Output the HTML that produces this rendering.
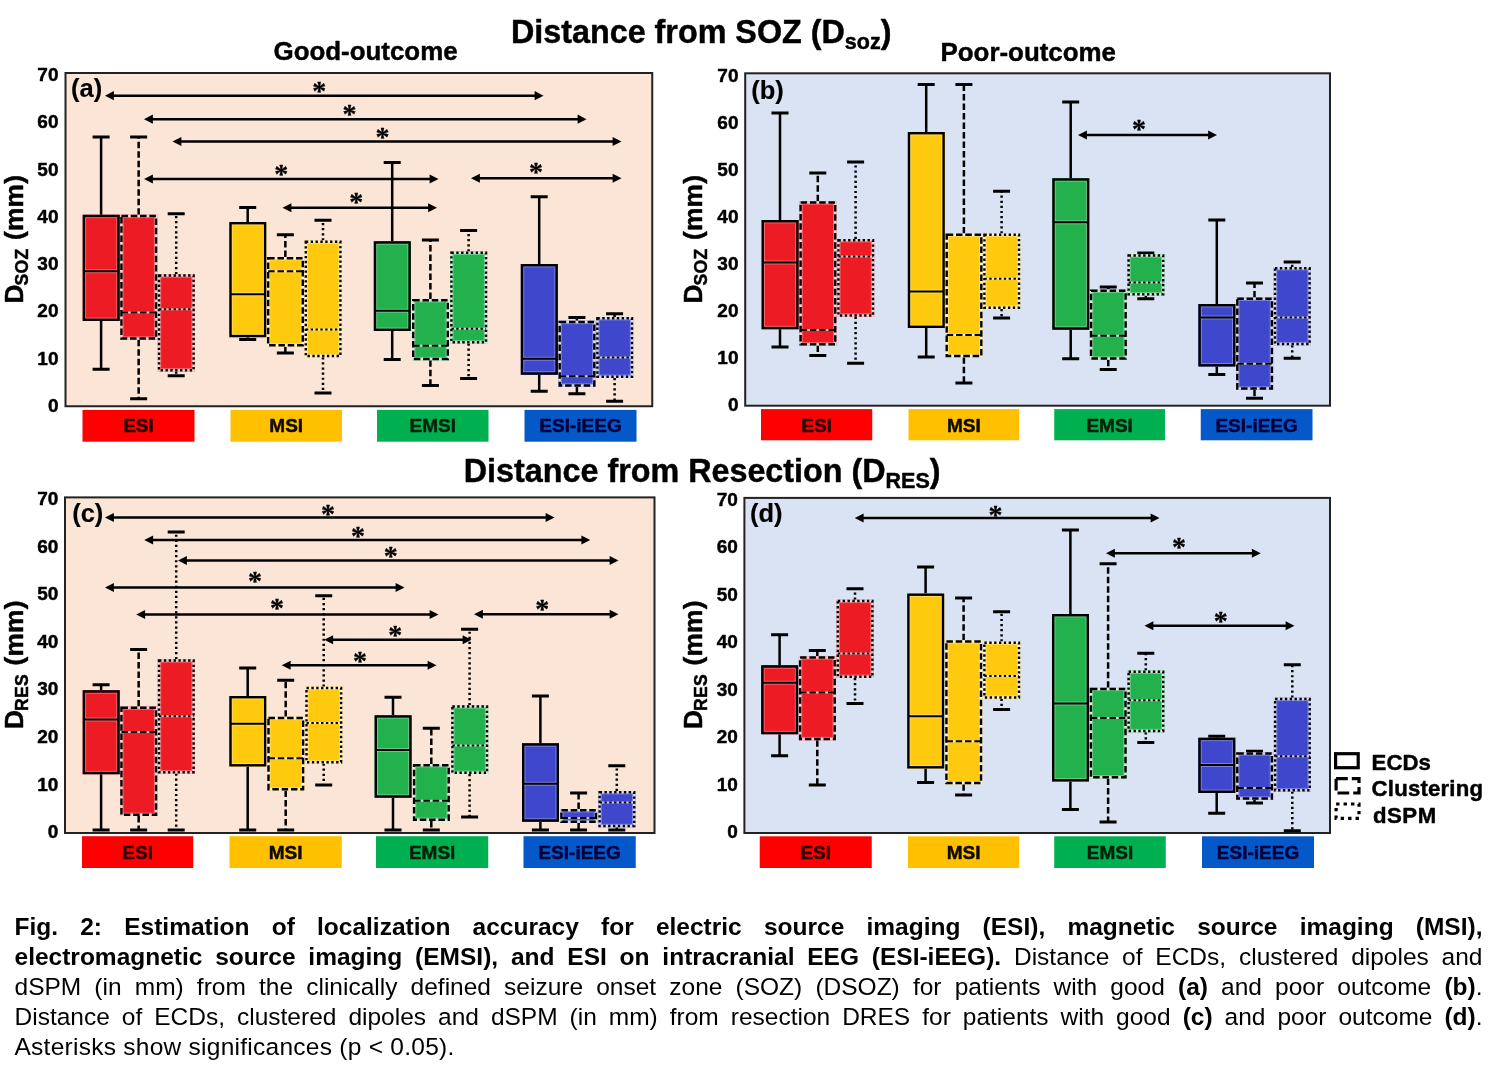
<!DOCTYPE html>
<html lang="en"><head><meta charset="utf-8"><title>Fig. 2</title>
<style>
html,body{margin:0;padding:0;background:#fff;}
body{width:1497px;height:1077px;position:relative;overflow:hidden;font-family:"Liberation Sans", sans-serif;}
svg{position:absolute;left:0;top:0;}
svg text{font-family:"Liberation Sans", sans-serif;font-weight:bold;fill:#000;stroke:#000;stroke-width:0.45px;stroke-linejoin:round;}
.tk{font-size:19px;}
.yt{font-size:26.3px;letter-spacing:0.3px;}
.sub{font-size:17.6px;}
.lb{font-size:19px;fill:#0a0a0a;}
.tag{font-size:25.5px;stroke-width:0.15px;}
.t1{font-size:32.3px;}
.t1s{font-size:21.5px;}
.t2{font-size:25.9px;}
.lg{font-size:22.2px;}
svg text.ast{font-family:"Liberation Serif","DejaVu Serif",serif;font-weight:bold;font-size:28px;stroke-width:0.3px;}
#cap{position:absolute;left:14.5px;top:911.8px;width:1468px;font-size:24.5px;line-height:30px;color:#000;}
#cap div{text-align:justify;text-align-last:justify;white-space:nowrap;height:30px;}
#cap div.last{text-align:left;text-align-last:left;letter-spacing:0.26px;}
</style></head>
<body>
<svg width="1497" height="1077" viewBox="0 0 1497 1077">
<g>
<rect x="65.5" y="73" width="586.75" height="333.25" fill="#FBE5D6" stroke="#222" stroke-width="2"/>
<text x="58.5" y="81.05" text-anchor="end" class="tk">70</text>
<text x="58.5" y="128.3" text-anchor="end" class="tk">60</text>
<text x="58.5" y="175.55" text-anchor="end" class="tk">50</text>
<text x="58.5" y="222.8" text-anchor="end" class="tk">40</text>
<text x="58.5" y="270.05" text-anchor="end" class="tk">30</text>
<text x="58.5" y="317.3" text-anchor="end" class="tk">20</text>
<text x="58.5" y="364.55" text-anchor="end" class="tk">10</text>
<text x="58.5" y="411.8" text-anchor="end" class="tk">0</text>
<text transform="translate(22.9 303.4) rotate(-90)" class="yt">D<tspan class="sub" dx="-1.5" dy="5.1">SOZ</tspan><tspan dx="0.8" dy="-5.1"> (mm)</tspan></text>
<path d="M101.1 214.75V137M101.1 321V369.25" stroke="#000" stroke-width="2.5" fill="none"/>
<path d="M92.6 137H109.6M92.6 369.25H109.6" stroke="#000" stroke-width="2.8" fill="none"/>
<path d="M138.65 214.75V137M138.65 339.75V398.75" stroke="#000" stroke-width="2.5" fill="none" stroke-dasharray="6.5 3"/>
<path d="M130.15 137H147.15M130.15 398.75H147.15" stroke="#000" stroke-width="2.8" fill="none"/>
<path d="M176.2 274.25V213.75M176.2 371.5V375.75" stroke="#000" stroke-width="2.5" fill="none" stroke-dasharray="2.2 2.9"/>
<path d="M167.7 213.75H184.7M167.7 375.75H184.7" stroke="#000" stroke-width="2.8" fill="none"/>
<path d="M247.7 222V207.5M247.7 337.25V339.5" stroke="#000" stroke-width="2.5" fill="none"/>
<path d="M239.2 207.5H256.2M239.2 339.5H256.2" stroke="#000" stroke-width="2.8" fill="none"/>
<path d="M285.35 257V234.75M285.35 346.5V353" stroke="#000" stroke-width="2.5" fill="none" stroke-dasharray="6.5 3"/>
<path d="M276.85 234.75H293.85M276.85 353H293.85" stroke="#000" stroke-width="2.8" fill="none"/>
<path d="M323 240.5V220.25M323 357.25V393" stroke="#000" stroke-width="2.5" fill="none" stroke-dasharray="2.2 2.9"/>
<path d="M314.5 220.25H331.5M314.5 393H331.5" stroke="#000" stroke-width="2.8" fill="none"/>
<path d="M392.2 241.25V162.5M392.2 331V359.5" stroke="#000" stroke-width="2.5" fill="none"/>
<path d="M383.7 162.5H400.7M383.7 359.5H400.7" stroke="#000" stroke-width="2.8" fill="none"/>
<path d="M430.4 299V240M430.4 360.25V385.5" stroke="#000" stroke-width="2.5" fill="none" stroke-dasharray="6.5 3"/>
<path d="M421.9 240H438.9M421.9 385.5H438.9" stroke="#000" stroke-width="2.8" fill="none"/>
<path d="M468.6 251.5V230.5M468.6 343.5V378.5" stroke="#000" stroke-width="2.5" fill="none" stroke-dasharray="2.2 2.9"/>
<path d="M460.1 230.5H477.1M460.1 378.5H477.1" stroke="#000" stroke-width="2.8" fill="none"/>
<path d="M539.2 264V196.75M539.2 374.75V391.25" stroke="#000" stroke-width="2.5" fill="none"/>
<path d="M530.7 196.75H547.7M530.7 391.25H547.7" stroke="#000" stroke-width="2.8" fill="none"/>
<path d="M576.9 320.75V317.5M576.9 386.75V393.75" stroke="#000" stroke-width="2.5" fill="none" stroke-dasharray="6.5 3"/>
<path d="M568.4 317.5H585.4M568.4 393.75H585.4" stroke="#000" stroke-width="2.8" fill="none"/>
<path d="M614.6 317V313.75M614.6 378V401.25" stroke="#000" stroke-width="2.5" fill="none" stroke-dasharray="2.2 2.9"/>
<path d="M606.1 313.75H623.1M606.1 401.25H623.1" stroke="#000" stroke-width="2.8" fill="none"/>
<rect x="82.7" y="214.75" width="37" height="106.25" fill="#ED1C24"/>
<rect x="85.5" y="217.55" width="31.4" height="100.65" fill="none" stroke="#fff" stroke-opacity="0.33" stroke-width="1.2"/>
<line x1="85.1" y1="271.25" x2="117.3" y2="271.25" stroke="#fff" stroke-opacity="0.3" stroke-width="4"/>
<rect x="83.9" y="215.95" width="34.6" height="103.85" fill="none" stroke="#000" stroke-width="2.4"/>
<line x1="83.9" y1="271.25" x2="118.5" y2="271.25" stroke="#000" stroke-width="2.2"/>
<rect x="120.25" y="214.75" width="37" height="125" fill="#ED1C24"/>
<rect x="123.05" y="217.55" width="31.4" height="119.4" fill="none" stroke="#fff" stroke-opacity="0.33" stroke-width="1.2"/>
<rect x="121.45" y="215.95" width="34.6" height="122.6" fill="none" stroke="#fff" stroke-opacity="0.8" stroke-width="2.4"/>
<line x1="121.45" y1="312.5" x2="156.05" y2="312.5" stroke="#fff" stroke-opacity="0.7" stroke-width="2"/>
<rect x="121.45" y="215.95" width="34.6" height="122.6" fill="none" stroke="#000" stroke-width="2.4" stroke-dasharray="6.5 2.8"/>
<line x1="121.45" y1="312.5" x2="156.05" y2="312.5" stroke="#000" stroke-width="2.2" stroke-dasharray="6.5 2.8"/>
<rect x="157.8" y="274.25" width="37" height="97.25" fill="#ED1C24"/>
<rect x="160.6" y="277.05" width="31.4" height="91.65" fill="none" stroke="#fff" stroke-opacity="0.33" stroke-width="1.2"/>
<rect x="159" y="275.45" width="34.6" height="94.85" fill="none" stroke="#fff" stroke-opacity="0.8" stroke-width="2.4"/>
<line x1="159" y1="309.25" x2="193.6" y2="309.25" stroke="#fff" stroke-opacity="0.7" stroke-width="2"/>
<rect x="159" y="275.45" width="34.6" height="94.85" fill="none" stroke="#000" stroke-width="2.4" stroke-dasharray="2.4 2.45"/>
<line x1="159" y1="309.25" x2="193.6" y2="309.25" stroke="#000" stroke-width="2.2" stroke-dasharray="2.4 2.45"/>
<rect x="229.3" y="222" width="37" height="115.25" fill="#FFC90E"/>
<rect x="232.1" y="224.8" width="31.4" height="109.65" fill="none" stroke="#fff" stroke-opacity="0.33" stroke-width="1.2"/>
<line x1="231.7" y1="294.25" x2="263.9" y2="294.25" stroke="#fff" stroke-opacity="0.3" stroke-width="4"/>
<rect x="230.5" y="223.2" width="34.6" height="112.85" fill="none" stroke="#000" stroke-width="2.4"/>
<line x1="230.5" y1="294.25" x2="265.1" y2="294.25" stroke="#000" stroke-width="2.2"/>
<rect x="266.95" y="257" width="37" height="89.5" fill="#FFC90E"/>
<rect x="269.75" y="259.8" width="31.4" height="83.9" fill="none" stroke="#fff" stroke-opacity="0.33" stroke-width="1.2"/>
<rect x="268.15" y="258.2" width="34.6" height="87.1" fill="none" stroke="#fff" stroke-opacity="0.8" stroke-width="2.4"/>
<line x1="268.15" y1="271.25" x2="302.75" y2="271.25" stroke="#fff" stroke-opacity="0.7" stroke-width="2"/>
<rect x="268.15" y="258.2" width="34.6" height="87.1" fill="none" stroke="#000" stroke-width="2.4" stroke-dasharray="6.5 2.8"/>
<line x1="268.15" y1="271.25" x2="302.75" y2="271.25" stroke="#000" stroke-width="2.2" stroke-dasharray="6.5 2.8"/>
<rect x="304.6" y="240.5" width="37" height="116.75" fill="#FFC90E"/>
<rect x="307.4" y="243.3" width="31.4" height="111.15" fill="none" stroke="#fff" stroke-opacity="0.33" stroke-width="1.2"/>
<rect x="305.8" y="241.7" width="34.6" height="114.35" fill="none" stroke="#fff" stroke-opacity="0.8" stroke-width="2.4"/>
<line x1="305.8" y1="329.5" x2="340.4" y2="329.5" stroke="#fff" stroke-opacity="0.7" stroke-width="2"/>
<rect x="305.8" y="241.7" width="34.6" height="114.35" fill="none" stroke="#000" stroke-width="2.4" stroke-dasharray="2.4 2.45"/>
<line x1="305.8" y1="329.5" x2="340.4" y2="329.5" stroke="#000" stroke-width="2.2" stroke-dasharray="2.4 2.45"/>
<rect x="373.8" y="241.25" width="37" height="89.75" fill="#22B14C"/>
<rect x="376.6" y="244.05" width="31.4" height="84.15" fill="none" stroke="#fff" stroke-opacity="0.33" stroke-width="1.2"/>
<line x1="376.2" y1="310.75" x2="408.4" y2="310.75" stroke="#fff" stroke-opacity="0.3" stroke-width="4"/>
<rect x="375" y="242.45" width="34.6" height="87.35" fill="none" stroke="#000" stroke-width="2.4"/>
<line x1="375" y1="310.75" x2="409.6" y2="310.75" stroke="#000" stroke-width="2.2"/>
<rect x="412" y="299" width="37" height="61.25" fill="#22B14C"/>
<rect x="414.8" y="301.8" width="31.4" height="55.65" fill="none" stroke="#fff" stroke-opacity="0.33" stroke-width="1.2"/>
<rect x="413.2" y="300.2" width="34.6" height="58.85" fill="none" stroke="#fff" stroke-opacity="0.8" stroke-width="2.4"/>
<line x1="413.2" y1="345.75" x2="447.8" y2="345.75" stroke="#fff" stroke-opacity="0.7" stroke-width="2"/>
<rect x="413.2" y="300.2" width="34.6" height="58.85" fill="none" stroke="#000" stroke-width="2.4" stroke-dasharray="6.5 2.8"/>
<line x1="413.2" y1="345.75" x2="447.8" y2="345.75" stroke="#000" stroke-width="2.2" stroke-dasharray="6.5 2.8"/>
<rect x="450.2" y="251.5" width="37" height="92" fill="#22B14C"/>
<rect x="453" y="254.3" width="31.4" height="86.4" fill="none" stroke="#fff" stroke-opacity="0.33" stroke-width="1.2"/>
<rect x="451.4" y="252.7" width="34.6" height="89.6" fill="none" stroke="#fff" stroke-opacity="0.8" stroke-width="2.4"/>
<line x1="451.4" y1="328.75" x2="486" y2="328.75" stroke="#fff" stroke-opacity="0.7" stroke-width="2"/>
<rect x="451.4" y="252.7" width="34.6" height="89.6" fill="none" stroke="#000" stroke-width="2.4" stroke-dasharray="2.4 2.45"/>
<line x1="451.4" y1="328.75" x2="486" y2="328.75" stroke="#000" stroke-width="2.2" stroke-dasharray="2.4 2.45"/>
<rect x="520.8" y="264" width="37" height="110.75" fill="#3F48CC"/>
<rect x="523.6" y="266.8" width="31.4" height="105.15" fill="none" stroke="#fff" stroke-opacity="0.33" stroke-width="1.2"/>
<line x1="523.2" y1="358.75" x2="555.4" y2="358.75" stroke="#fff" stroke-opacity="0.3" stroke-width="4"/>
<rect x="522" y="265.2" width="34.6" height="108.35" fill="none" stroke="#000" stroke-width="2.4"/>
<line x1="522" y1="358.75" x2="556.6" y2="358.75" stroke="#000" stroke-width="2.2"/>
<rect x="558.5" y="320.75" width="37" height="66" fill="#3F48CC"/>
<rect x="561.3" y="323.55" width="31.4" height="60.4" fill="none" stroke="#fff" stroke-opacity="0.33" stroke-width="1.2"/>
<rect x="559.7" y="321.95" width="34.6" height="63.6" fill="none" stroke="#fff" stroke-opacity="0.8" stroke-width="2.4"/>
<line x1="559.7" y1="376.25" x2="594.3" y2="376.25" stroke="#fff" stroke-opacity="0.7" stroke-width="2"/>
<rect x="559.7" y="321.95" width="34.6" height="63.6" fill="none" stroke="#000" stroke-width="2.4" stroke-dasharray="6.5 2.8"/>
<line x1="559.7" y1="376.25" x2="594.3" y2="376.25" stroke="#000" stroke-width="2.2" stroke-dasharray="6.5 2.8"/>
<rect x="596.2" y="317" width="37" height="61" fill="#3F48CC"/>
<rect x="599" y="319.8" width="31.4" height="55.4" fill="none" stroke="#fff" stroke-opacity="0.33" stroke-width="1.2"/>
<rect x="597.4" y="318.2" width="34.6" height="58.6" fill="none" stroke="#fff" stroke-opacity="0.8" stroke-width="2.4"/>
<line x1="597.4" y1="357.5" x2="632" y2="357.5" stroke="#fff" stroke-opacity="0.7" stroke-width="2"/>
<rect x="597.4" y="318.2" width="34.6" height="58.6" fill="none" stroke="#000" stroke-width="2.4" stroke-dasharray="2.4 2.45"/>
<line x1="597.4" y1="357.5" x2="632" y2="357.5" stroke="#000" stroke-width="2.2" stroke-dasharray="2.4 2.45"/>
<line x1="112.9" y1="95.7" x2="535.6" y2="95.7" stroke="#000" stroke-width="2.35"/><polygon points="105,95.7 113.9,91.1 113.9,100.3"/><polygon points="543.5,95.7 534.6,91.1 534.6,100.3"/>
<text x="319.3" y="100.2" text-anchor="middle" class="ast">*</text>
<line x1="151.9" y1="119.2" x2="578.6" y2="119.2" stroke="#000" stroke-width="2.35"/><polygon points="144,119.2 152.9,114.6 152.9,123.8"/><polygon points="586.5,119.2 577.6,114.6 577.6,123.8"/>
<text x="349.4" y="123" text-anchor="middle" class="ast">*</text>
<line x1="180.4" y1="141.5" x2="613.6" y2="141.5" stroke="#000" stroke-width="2.35"/><polygon points="172.5,141.5 181.4,136.9 181.4,146.1"/><polygon points="621.5,141.5 612.6,136.9 612.6,146.1"/>
<text x="382.5" y="145.7" text-anchor="middle" class="ast">*</text>
<line x1="151.9" y1="179" x2="430.6" y2="179" stroke="#000" stroke-width="2.35"/><polygon points="144,179 152.9,174.4 152.9,183.6"/><polygon points="438.5,179 429.6,174.4 429.6,183.6"/>
<text x="281.25" y="182.7" text-anchor="middle" class="ast">*</text>
<line x1="290.4" y1="207.75" x2="429.1" y2="207.75" stroke="#000" stroke-width="2.35"/><polygon points="282.5,207.75 291.4,203.15 291.4,212.35"/><polygon points="437,207.75 428.1,203.15 428.1,212.35"/>
<text x="356.25" y="211.45" text-anchor="middle" class="ast">*</text>
<line x1="478.9" y1="178.25" x2="613.6" y2="178.25" stroke="#000" stroke-width="2.35"/><polygon points="471,178.25 479.9,173.65 479.9,182.85"/><polygon points="621.5,178.25 612.6,173.65 612.6,182.85"/>
<text x="536" y="181.45" text-anchor="middle" class="ast">*</text>
<text x="71" y="96.6" class="tag">(a)</text>
<rect x="82.5" y="409.9" width="112" height="31.8" fill="#FF0000"/>
<text x="138.5" y="432.2" text-anchor="middle" class="lb" style="fill:#2b0000;stroke:#2b0000">ESI</text>
<rect x="230.5" y="409.9" width="111.5" height="31.8" fill="#FFC000"/>
<text x="286.25" y="432.2" text-anchor="middle" class="lb" style="fill:#0d0a00;stroke:#0d0a00">MSI</text>
<rect x="377" y="409.9" width="111.5" height="31.8" fill="#00B050"/>
<text x="432.75" y="432.2" text-anchor="middle" class="lb" style="fill:#00200a;stroke:#00200a">EMSI</text>
<rect x="524.5" y="409.9" width="112" height="31.8" fill="#0558C8"/>
<text x="580.5" y="432.2" text-anchor="middle" class="lb" style="fill:#00033c;stroke:#00033c">ESI-iEEG</text>
</g>
<g>
<rect x="745.2" y="73.3" width="584.8" height="332.4" fill="#DAE3F3" stroke="#222" stroke-width="2"/>
<text x="738.5" y="82.1" text-anchor="end" class="tk">70</text>
<text x="738.5" y="129.03" text-anchor="end" class="tk">60</text>
<text x="738.5" y="175.96" text-anchor="end" class="tk">50</text>
<text x="738.5" y="222.89" text-anchor="end" class="tk">40</text>
<text x="738.5" y="269.81" text-anchor="end" class="tk">30</text>
<text x="738.5" y="316.74" text-anchor="end" class="tk">20</text>
<text x="738.5" y="363.67" text-anchor="end" class="tk">10</text>
<text x="738.5" y="410.6" text-anchor="end" class="tk">0</text>
<text transform="translate(701.6 303.4) rotate(-90)" class="yt">D<tspan class="sub" dx="-1.5" dy="5.1">SOZ</tspan><tspan dx="0.8" dy="-5.1"> (mm)</tspan></text>
<path d="M780 220V113M780 329.25V347" stroke="#000" stroke-width="2.5" fill="none"/>
<path d="M771.5 113H788.5M771.5 347H788.5" stroke="#000" stroke-width="2.8" fill="none"/>
<path d="M817.8 201.25V173M817.8 345.5V355.5" stroke="#000" stroke-width="2.5" fill="none" stroke-dasharray="6.5 3"/>
<path d="M809.3 173H826.3M809.3 355.5H826.3" stroke="#000" stroke-width="2.8" fill="none"/>
<path d="M855.6 239V162M855.6 316.75V363.25" stroke="#000" stroke-width="2.5" fill="none" stroke-dasharray="2.2 2.9"/>
<path d="M847.1 162H864.1M847.1 363.25H864.1" stroke="#000" stroke-width="2.8" fill="none"/>
<path d="M926.2 132V84.5M926.2 328V357" stroke="#000" stroke-width="2.5" fill="none"/>
<path d="M917.7 84.5H934.7M917.7 357H934.7" stroke="#000" stroke-width="2.8" fill="none"/>
<path d="M963.9 233.5V84.5M963.9 357.25V383" stroke="#000" stroke-width="2.5" fill="none" stroke-dasharray="6.5 3"/>
<path d="M955.4 84.5H972.4M955.4 383H972.4" stroke="#000" stroke-width="2.8" fill="none"/>
<path d="M1001.6 233.5V191.25M1001.6 309V318" stroke="#000" stroke-width="2.5" fill="none" stroke-dasharray="2.2 2.9"/>
<path d="M993.1 191.25H1010.1M993.1 318H1010.1" stroke="#000" stroke-width="2.8" fill="none"/>
<path d="M1070.7 178.25V102M1070.7 329.75V358.75" stroke="#000" stroke-width="2.5" fill="none"/>
<path d="M1062.2 102H1079.2M1062.2 358.75H1079.2" stroke="#000" stroke-width="2.8" fill="none"/>
<path d="M1108.25 289.5V287M1108.25 359.75V369.5" stroke="#000" stroke-width="2.5" fill="none" stroke-dasharray="6.5 3"/>
<path d="M1099.75 287H1116.75M1099.75 369.5H1116.75" stroke="#000" stroke-width="2.8" fill="none"/>
<path d="M1145.8 254.25V253M1145.8 295.5V298.75" stroke="#000" stroke-width="2.5" fill="none" stroke-dasharray="2.2 2.9"/>
<path d="M1137.3 253H1154.3M1137.3 298.75H1154.3" stroke="#000" stroke-width="2.8" fill="none"/>
<path d="M1216.8 304V220M1216.8 366.5V374.5" stroke="#000" stroke-width="2.5" fill="none"/>
<path d="M1208.3 220H1225.3M1208.3 374.5H1225.3" stroke="#000" stroke-width="2.8" fill="none"/>
<path d="M1254.5 297.5V283M1254.5 389.75V398.25" stroke="#000" stroke-width="2.5" fill="none" stroke-dasharray="6.5 3"/>
<path d="M1246 283H1263M1246 398.25H1263" stroke="#000" stroke-width="2.8" fill="none"/>
<path d="M1292.2 267V262M1292.2 345.25V358.25" stroke="#000" stroke-width="2.5" fill="none" stroke-dasharray="2.2 2.9"/>
<path d="M1283.7 262H1300.7M1283.7 358.25H1300.7" stroke="#000" stroke-width="2.8" fill="none"/>
<rect x="761.6" y="220" width="37" height="109.25" fill="#ED1C24"/>
<rect x="764.4" y="222.8" width="31.4" height="103.65" fill="none" stroke="#fff" stroke-opacity="0.33" stroke-width="1.2"/>
<line x1="764" y1="262.5" x2="796.2" y2="262.5" stroke="#fff" stroke-opacity="0.3" stroke-width="4"/>
<rect x="762.8" y="221.2" width="34.6" height="106.85" fill="none" stroke="#000" stroke-width="2.4"/>
<line x1="762.8" y1="262.5" x2="797.4" y2="262.5" stroke="#000" stroke-width="2.2"/>
<rect x="799.4" y="201.25" width="37" height="144.25" fill="#ED1C24"/>
<rect x="802.2" y="204.05" width="31.4" height="138.65" fill="none" stroke="#fff" stroke-opacity="0.33" stroke-width="1.2"/>
<rect x="800.6" y="202.45" width="34.6" height="141.85" fill="none" stroke="#fff" stroke-opacity="0.8" stroke-width="2.4"/>
<line x1="800.6" y1="330" x2="835.2" y2="330" stroke="#fff" stroke-opacity="0.7" stroke-width="2"/>
<rect x="800.6" y="202.45" width="34.6" height="141.85" fill="none" stroke="#000" stroke-width="2.4" stroke-dasharray="6.5 2.8"/>
<line x1="800.6" y1="330" x2="835.2" y2="330" stroke="#000" stroke-width="2.2" stroke-dasharray="6.5 2.8"/>
<rect x="837.2" y="239" width="37" height="77.75" fill="#ED1C24"/>
<rect x="840" y="241.8" width="31.4" height="72.15" fill="none" stroke="#fff" stroke-opacity="0.33" stroke-width="1.2"/>
<rect x="838.4" y="240.2" width="34.6" height="75.35" fill="none" stroke="#fff" stroke-opacity="0.8" stroke-width="2.4"/>
<line x1="838.4" y1="256.5" x2="873" y2="256.5" stroke="#fff" stroke-opacity="0.7" stroke-width="2"/>
<rect x="838.4" y="240.2" width="34.6" height="75.35" fill="none" stroke="#000" stroke-width="2.4" stroke-dasharray="2.4 2.45"/>
<line x1="838.4" y1="256.5" x2="873" y2="256.5" stroke="#000" stroke-width="2.2" stroke-dasharray="2.4 2.45"/>
<rect x="907.8" y="132" width="37" height="196" fill="#FFC90E"/>
<rect x="910.6" y="134.8" width="31.4" height="190.4" fill="none" stroke="#fff" stroke-opacity="0.33" stroke-width="1.2"/>
<line x1="910.2" y1="291.5" x2="942.4" y2="291.5" stroke="#fff" stroke-opacity="0.3" stroke-width="4"/>
<rect x="909" y="133.2" width="34.6" height="193.6" fill="none" stroke="#000" stroke-width="2.4"/>
<line x1="909" y1="291.5" x2="943.6" y2="291.5" stroke="#000" stroke-width="2.2"/>
<rect x="945.5" y="233.5" width="37" height="123.75" fill="#FFC90E"/>
<rect x="948.3" y="236.3" width="31.4" height="118.15" fill="none" stroke="#fff" stroke-opacity="0.33" stroke-width="1.2"/>
<rect x="946.7" y="234.7" width="34.6" height="121.35" fill="none" stroke="#fff" stroke-opacity="0.8" stroke-width="2.4"/>
<line x1="946.7" y1="335" x2="981.3" y2="335" stroke="#fff" stroke-opacity="0.7" stroke-width="2"/>
<rect x="946.7" y="234.7" width="34.6" height="121.35" fill="none" stroke="#000" stroke-width="2.4" stroke-dasharray="6.5 2.8"/>
<line x1="946.7" y1="335" x2="981.3" y2="335" stroke="#000" stroke-width="2.2" stroke-dasharray="6.5 2.8"/>
<rect x="983.2" y="233.5" width="37" height="75.5" fill="#FFC90E"/>
<rect x="986" y="236.3" width="31.4" height="69.9" fill="none" stroke="#fff" stroke-opacity="0.33" stroke-width="1.2"/>
<rect x="984.4" y="234.7" width="34.6" height="73.1" fill="none" stroke="#fff" stroke-opacity="0.8" stroke-width="2.4"/>
<line x1="984.4" y1="278.75" x2="1019" y2="278.75" stroke="#fff" stroke-opacity="0.7" stroke-width="2"/>
<rect x="984.4" y="234.7" width="34.6" height="73.1" fill="none" stroke="#000" stroke-width="2.4" stroke-dasharray="2.4 2.45"/>
<line x1="984.4" y1="278.75" x2="1019" y2="278.75" stroke="#000" stroke-width="2.2" stroke-dasharray="2.4 2.45"/>
<rect x="1052.3" y="178.25" width="37" height="151.5" fill="#22B14C"/>
<rect x="1055.1" y="181.05" width="31.4" height="145.9" fill="none" stroke="#fff" stroke-opacity="0.33" stroke-width="1.2"/>
<line x1="1054.7" y1="222.25" x2="1086.9" y2="222.25" stroke="#fff" stroke-opacity="0.3" stroke-width="4"/>
<rect x="1053.5" y="179.45" width="34.6" height="149.1" fill="none" stroke="#000" stroke-width="2.4"/>
<line x1="1053.5" y1="222.25" x2="1088.1" y2="222.25" stroke="#000" stroke-width="2.2"/>
<rect x="1089.85" y="289.5" width="37" height="70.25" fill="#22B14C"/>
<rect x="1092.65" y="292.3" width="31.4" height="64.65" fill="none" stroke="#fff" stroke-opacity="0.33" stroke-width="1.2"/>
<rect x="1091.05" y="290.7" width="34.6" height="67.85" fill="none" stroke="#fff" stroke-opacity="0.8" stroke-width="2.4"/>
<line x1="1091.05" y1="335.75" x2="1125.65" y2="335.75" stroke="#fff" stroke-opacity="0.7" stroke-width="2"/>
<rect x="1091.05" y="290.7" width="34.6" height="67.85" fill="none" stroke="#000" stroke-width="2.4" stroke-dasharray="6.5 2.8"/>
<line x1="1091.05" y1="335.75" x2="1125.65" y2="335.75" stroke="#000" stroke-width="2.2" stroke-dasharray="6.5 2.8"/>
<rect x="1127.4" y="254.25" width="37" height="41.25" fill="#22B14C"/>
<rect x="1130.2" y="257.05" width="31.4" height="35.65" fill="none" stroke="#fff" stroke-opacity="0.33" stroke-width="1.2"/>
<rect x="1128.6" y="255.45" width="34.6" height="38.85" fill="none" stroke="#fff" stroke-opacity="0.8" stroke-width="2.4"/>
<line x1="1128.6" y1="282.5" x2="1163.2" y2="282.5" stroke="#fff" stroke-opacity="0.7" stroke-width="2"/>
<rect x="1128.6" y="255.45" width="34.6" height="38.85" fill="none" stroke="#000" stroke-width="2.4" stroke-dasharray="2.4 2.45"/>
<line x1="1128.6" y1="282.5" x2="1163.2" y2="282.5" stroke="#000" stroke-width="2.2" stroke-dasharray="2.4 2.45"/>
<rect x="1198.4" y="304" width="37" height="62.5" fill="#3F48CC"/>
<rect x="1201.2" y="306.8" width="31.4" height="56.9" fill="none" stroke="#fff" stroke-opacity="0.33" stroke-width="1.2"/>
<line x1="1200.8" y1="317.5" x2="1233" y2="317.5" stroke="#fff" stroke-opacity="0.3" stroke-width="4"/>
<rect x="1199.6" y="305.2" width="34.6" height="60.1" fill="none" stroke="#000" stroke-width="2.4"/>
<line x1="1199.6" y1="317.5" x2="1234.2" y2="317.5" stroke="#000" stroke-width="2.2"/>
<rect x="1236.1" y="297.5" width="37" height="92.25" fill="#3F48CC"/>
<rect x="1238.9" y="300.3" width="31.4" height="86.65" fill="none" stroke="#fff" stroke-opacity="0.33" stroke-width="1.2"/>
<rect x="1237.3" y="298.7" width="34.6" height="89.85" fill="none" stroke="#fff" stroke-opacity="0.8" stroke-width="2.4"/>
<line x1="1237.3" y1="363.75" x2="1271.9" y2="363.75" stroke="#fff" stroke-opacity="0.7" stroke-width="2"/>
<rect x="1237.3" y="298.7" width="34.6" height="89.85" fill="none" stroke="#000" stroke-width="2.4" stroke-dasharray="6.5 2.8"/>
<line x1="1237.3" y1="363.75" x2="1271.9" y2="363.75" stroke="#000" stroke-width="2.2" stroke-dasharray="6.5 2.8"/>
<rect x="1273.8" y="267" width="37" height="78.25" fill="#3F48CC"/>
<rect x="1276.6" y="269.8" width="31.4" height="72.65" fill="none" stroke="#fff" stroke-opacity="0.33" stroke-width="1.2"/>
<rect x="1275" y="268.2" width="34.6" height="75.85" fill="none" stroke="#fff" stroke-opacity="0.8" stroke-width="2.4"/>
<line x1="1275" y1="317.5" x2="1309.6" y2="317.5" stroke="#fff" stroke-opacity="0.7" stroke-width="2"/>
<rect x="1275" y="268.2" width="34.6" height="75.85" fill="none" stroke="#000" stroke-width="2.4" stroke-dasharray="2.4 2.45"/>
<line x1="1275" y1="317.5" x2="1309.6" y2="317.5" stroke="#000" stroke-width="2.2" stroke-dasharray="2.4 2.45"/>
<line x1="1085.9" y1="135" x2="1209.1" y2="135" stroke="#000" stroke-width="2.35"/><polygon points="1078,135 1086.9,130.4 1086.9,139.6"/><polygon points="1217,135 1208.1,130.4 1208.1,139.6"/>
<text x="1139" y="138.45" text-anchor="middle" class="ast">*</text>
<text x="751.3" y="99.3" class="tag">(b)</text>
<rect x="761" y="409.1" width="111.25" height="31.2" fill="#FF0000"/>
<text x="816.62" y="431.7" text-anchor="middle" class="lb" style="fill:#2b0000;stroke:#2b0000">ESI</text>
<rect x="908.5" y="409.1" width="110.75" height="31.2" fill="#FFC000"/>
<text x="963.88" y="431.7" text-anchor="middle" class="lb" style="fill:#0d0a00;stroke:#0d0a00">MSI</text>
<rect x="1054.25" y="409.1" width="110.75" height="31.2" fill="#00B050"/>
<text x="1109.62" y="431.7" text-anchor="middle" class="lb" style="fill:#00200a;stroke:#00200a">EMSI</text>
<rect x="1200.75" y="409.1" width="111.75" height="31.2" fill="#0558C8"/>
<text x="1256.62" y="431.7" text-anchor="middle" class="lb" style="fill:#00033c;stroke:#00033c">ESI-iEEG</text>
</g>
<g>
<rect x="65" y="497.4" width="589.5" height="335.6" fill="#FBE5D6" stroke="#222" stroke-width="2"/>
<text x="58.3" y="505.2" text-anchor="end" class="tk">70</text>
<text x="58.3" y="552.75" text-anchor="end" class="tk">60</text>
<text x="58.3" y="600.3" text-anchor="end" class="tk">50</text>
<text x="58.3" y="647.85" text-anchor="end" class="tk">40</text>
<text x="58.3" y="695.4" text-anchor="end" class="tk">30</text>
<text x="58.3" y="742.95" text-anchor="end" class="tk">20</text>
<text x="58.3" y="790.5" text-anchor="end" class="tk">10</text>
<text x="58.3" y="838.05" text-anchor="end" class="tk">0</text>
<text transform="translate(22.9 728.9) rotate(-90)" class="yt">D<tspan class="sub" dx="-1.5" dy="5.1">RES</tspan><tspan dx="0.8" dy="-5.1"> (mm)</tspan></text>
<path d="M101.1 690.25V684.75M101.1 774.25V830" stroke="#000" stroke-width="2.5" fill="none"/>
<path d="M92.6 684.75H109.6M92.6 830H109.6" stroke="#000" stroke-width="2.8" fill="none"/>
<path d="M138.65 706.5V649.5M138.65 816V830" stroke="#000" stroke-width="2.5" fill="none" stroke-dasharray="6.5 3"/>
<path d="M130.15 649.5H147.15M130.15 830H147.15" stroke="#000" stroke-width="2.8" fill="none"/>
<path d="M176.2 659.25V532M176.2 773.5V830" stroke="#000" stroke-width="2.5" fill="none" stroke-dasharray="2.2 2.9"/>
<path d="M167.7 532H184.7M167.7 830H184.7" stroke="#000" stroke-width="2.8" fill="none"/>
<path d="M247.7 696V668M247.7 766.5V830" stroke="#000" stroke-width="2.5" fill="none"/>
<path d="M239.2 668H256.2M239.2 830H256.2" stroke="#000" stroke-width="2.8" fill="none"/>
<path d="M285.7 716.75V680.25M285.7 790.5V830" stroke="#000" stroke-width="2.5" fill="none" stroke-dasharray="6.5 3"/>
<path d="M277.2 680.25H294.2M277.2 830H294.2" stroke="#000" stroke-width="2.8" fill="none"/>
<path d="M323.7 686.75V595.75M323.7 763.5V785" stroke="#000" stroke-width="2.5" fill="none" stroke-dasharray="2.2 2.9"/>
<path d="M315.2 595.75H332.2M315.2 785H332.2" stroke="#000" stroke-width="2.8" fill="none"/>
<path d="M393 715.25V697.25M393 797.75V830" stroke="#000" stroke-width="2.5" fill="none"/>
<path d="M384.5 697.25H401.5M384.5 830H401.5" stroke="#000" stroke-width="2.8" fill="none"/>
<path d="M431.3 764V728.25M431.3 821V830" stroke="#000" stroke-width="2.5" fill="none" stroke-dasharray="6.5 3"/>
<path d="M422.8 728.25H439.8M422.8 830H439.8" stroke="#000" stroke-width="2.8" fill="none"/>
<path d="M469.6 705.25V629.25M469.6 774V817" stroke="#000" stroke-width="2.5" fill="none" stroke-dasharray="2.2 2.9"/>
<path d="M461.1 629.25H478.1M461.1 817H478.1" stroke="#000" stroke-width="2.8" fill="none"/>
<path d="M540.4 743.25V696M540.4 821.75V830" stroke="#000" stroke-width="2.5" fill="none"/>
<path d="M531.9 696H548.9M531.9 830H548.9" stroke="#000" stroke-width="2.8" fill="none"/>
<path d="M578.6 809V793M578.6 823V830" stroke="#000" stroke-width="2.5" fill="none" stroke-dasharray="6.5 3"/>
<path d="M570.1 793H587.1M570.1 830H587.1" stroke="#000" stroke-width="2.8" fill="none"/>
<path d="M616.8 791V765.75M616.8 827.25V830" stroke="#000" stroke-width="2.5" fill="none" stroke-dasharray="2.2 2.9"/>
<path d="M608.3 765.75H625.3M608.3 830H625.3" stroke="#000" stroke-width="2.8" fill="none"/>
<rect x="82.7" y="690.25" width="37" height="84" fill="#ED1C24"/>
<rect x="85.5" y="693.05" width="31.4" height="78.4" fill="none" stroke="#fff" stroke-opacity="0.33" stroke-width="1.2"/>
<line x1="85.1" y1="719.5" x2="117.3" y2="719.5" stroke="#fff" stroke-opacity="0.3" stroke-width="4"/>
<rect x="83.9" y="691.45" width="34.6" height="81.6" fill="none" stroke="#000" stroke-width="2.4"/>
<line x1="83.9" y1="719.5" x2="118.5" y2="719.5" stroke="#000" stroke-width="2.2"/>
<rect x="120.25" y="706.5" width="37" height="109.5" fill="#ED1C24"/>
<rect x="123.05" y="709.3" width="31.4" height="103.9" fill="none" stroke="#fff" stroke-opacity="0.33" stroke-width="1.2"/>
<rect x="121.45" y="707.7" width="34.6" height="107.1" fill="none" stroke="#fff" stroke-opacity="0.8" stroke-width="2.4"/>
<line x1="121.45" y1="732" x2="156.05" y2="732" stroke="#fff" stroke-opacity="0.7" stroke-width="2"/>
<rect x="121.45" y="707.7" width="34.6" height="107.1" fill="none" stroke="#000" stroke-width="2.4" stroke-dasharray="6.5 2.8"/>
<line x1="121.45" y1="732" x2="156.05" y2="732" stroke="#000" stroke-width="2.2" stroke-dasharray="6.5 2.8"/>
<rect x="157.8" y="659.25" width="37" height="114.25" fill="#ED1C24"/>
<rect x="160.6" y="662.05" width="31.4" height="108.65" fill="none" stroke="#fff" stroke-opacity="0.33" stroke-width="1.2"/>
<rect x="159" y="660.45" width="34.6" height="111.85" fill="none" stroke="#fff" stroke-opacity="0.8" stroke-width="2.4"/>
<line x1="159" y1="716.25" x2="193.6" y2="716.25" stroke="#fff" stroke-opacity="0.7" stroke-width="2"/>
<rect x="159" y="660.45" width="34.6" height="111.85" fill="none" stroke="#000" stroke-width="2.4" stroke-dasharray="2.4 2.45"/>
<line x1="159" y1="716.25" x2="193.6" y2="716.25" stroke="#000" stroke-width="2.2" stroke-dasharray="2.4 2.45"/>
<rect x="229.3" y="696" width="37" height="70.5" fill="#FFC90E"/>
<rect x="232.1" y="698.8" width="31.4" height="64.9" fill="none" stroke="#fff" stroke-opacity="0.33" stroke-width="1.2"/>
<line x1="231.7" y1="723.75" x2="263.9" y2="723.75" stroke="#fff" stroke-opacity="0.3" stroke-width="4"/>
<rect x="230.5" y="697.2" width="34.6" height="68.1" fill="none" stroke="#000" stroke-width="2.4"/>
<line x1="230.5" y1="723.75" x2="265.1" y2="723.75" stroke="#000" stroke-width="2.2"/>
<rect x="267.3" y="716.75" width="37" height="73.75" fill="#FFC90E"/>
<rect x="270.1" y="719.55" width="31.4" height="68.15" fill="none" stroke="#fff" stroke-opacity="0.33" stroke-width="1.2"/>
<rect x="268.5" y="717.95" width="34.6" height="71.35" fill="none" stroke="#fff" stroke-opacity="0.8" stroke-width="2.4"/>
<line x1="268.5" y1="758.25" x2="303.1" y2="758.25" stroke="#fff" stroke-opacity="0.7" stroke-width="2"/>
<rect x="268.5" y="717.95" width="34.6" height="71.35" fill="none" stroke="#000" stroke-width="2.4" stroke-dasharray="6.5 2.8"/>
<line x1="268.5" y1="758.25" x2="303.1" y2="758.25" stroke="#000" stroke-width="2.2" stroke-dasharray="6.5 2.8"/>
<rect x="305.3" y="686.75" width="37" height="76.75" fill="#FFC90E"/>
<rect x="308.1" y="689.55" width="31.4" height="71.15" fill="none" stroke="#fff" stroke-opacity="0.33" stroke-width="1.2"/>
<rect x="306.5" y="687.95" width="34.6" height="74.35" fill="none" stroke="#fff" stroke-opacity="0.8" stroke-width="2.4"/>
<line x1="306.5" y1="723" x2="341.1" y2="723" stroke="#fff" stroke-opacity="0.7" stroke-width="2"/>
<rect x="306.5" y="687.95" width="34.6" height="74.35" fill="none" stroke="#000" stroke-width="2.4" stroke-dasharray="2.4 2.45"/>
<line x1="306.5" y1="723" x2="341.1" y2="723" stroke="#000" stroke-width="2.2" stroke-dasharray="2.4 2.45"/>
<rect x="374.6" y="715.25" width="37" height="82.5" fill="#22B14C"/>
<rect x="377.4" y="718.05" width="31.4" height="76.9" fill="none" stroke="#fff" stroke-opacity="0.33" stroke-width="1.2"/>
<line x1="377" y1="750" x2="409.2" y2="750" stroke="#fff" stroke-opacity="0.3" stroke-width="4"/>
<rect x="375.8" y="716.45" width="34.6" height="80.1" fill="none" stroke="#000" stroke-width="2.4"/>
<line x1="375.8" y1="750" x2="410.4" y2="750" stroke="#000" stroke-width="2.2"/>
<rect x="412.9" y="764" width="37" height="57" fill="#22B14C"/>
<rect x="415.7" y="766.8" width="31.4" height="51.4" fill="none" stroke="#fff" stroke-opacity="0.33" stroke-width="1.2"/>
<rect x="414.1" y="765.2" width="34.6" height="54.6" fill="none" stroke="#fff" stroke-opacity="0.8" stroke-width="2.4"/>
<line x1="414.1" y1="800.75" x2="448.7" y2="800.75" stroke="#fff" stroke-opacity="0.7" stroke-width="2"/>
<rect x="414.1" y="765.2" width="34.6" height="54.6" fill="none" stroke="#000" stroke-width="2.4" stroke-dasharray="6.5 2.8"/>
<line x1="414.1" y1="800.75" x2="448.7" y2="800.75" stroke="#000" stroke-width="2.2" stroke-dasharray="6.5 2.8"/>
<rect x="451.2" y="705.25" width="37" height="68.75" fill="#22B14C"/>
<rect x="454" y="708.05" width="31.4" height="63.15" fill="none" stroke="#fff" stroke-opacity="0.33" stroke-width="1.2"/>
<rect x="452.4" y="706.45" width="34.6" height="66.35" fill="none" stroke="#fff" stroke-opacity="0.8" stroke-width="2.4"/>
<line x1="452.4" y1="745.5" x2="487" y2="745.5" stroke="#fff" stroke-opacity="0.7" stroke-width="2"/>
<rect x="452.4" y="706.45" width="34.6" height="66.35" fill="none" stroke="#000" stroke-width="2.4" stroke-dasharray="2.4 2.45"/>
<line x1="452.4" y1="745.5" x2="487" y2="745.5" stroke="#000" stroke-width="2.2" stroke-dasharray="2.4 2.45"/>
<rect x="522" y="743.25" width="37" height="78.5" fill="#3F48CC"/>
<rect x="524.8" y="746.05" width="31.4" height="72.9" fill="none" stroke="#fff" stroke-opacity="0.33" stroke-width="1.2"/>
<line x1="524.4" y1="783.75" x2="556.6" y2="783.75" stroke="#fff" stroke-opacity="0.3" stroke-width="4"/>
<rect x="523.2" y="744.45" width="34.6" height="76.1" fill="none" stroke="#000" stroke-width="2.4"/>
<line x1="523.2" y1="783.75" x2="557.8" y2="783.75" stroke="#000" stroke-width="2.2"/>
<rect x="560.2" y="809" width="37" height="14" fill="#3F48CC"/>
<rect x="563" y="811.8" width="31.4" height="8.4" fill="none" stroke="#fff" stroke-opacity="0.33" stroke-width="1.2"/>
<rect x="561.4" y="810.2" width="34.6" height="11.6" fill="none" stroke="#fff" stroke-opacity="0.8" stroke-width="2.4"/>
<line x1="561.4" y1="818" x2="596" y2="818" stroke="#fff" stroke-opacity="0.7" stroke-width="2"/>
<rect x="561.4" y="810.2" width="34.6" height="11.6" fill="none" stroke="#000" stroke-width="2.4" stroke-dasharray="6.5 2.8"/>
<line x1="561.4" y1="818" x2="596" y2="818" stroke="#000" stroke-width="2.2" stroke-dasharray="6.5 2.8"/>
<rect x="598.4" y="791" width="37" height="36.25" fill="#3F48CC"/>
<rect x="601.2" y="793.8" width="31.4" height="30.65" fill="none" stroke="#fff" stroke-opacity="0.33" stroke-width="1.2"/>
<rect x="599.6" y="792.2" width="34.6" height="33.85" fill="none" stroke="#fff" stroke-opacity="0.8" stroke-width="2.4"/>
<line x1="599.6" y1="802.5" x2="634.2" y2="802.5" stroke="#fff" stroke-opacity="0.7" stroke-width="2"/>
<rect x="599.6" y="792.2" width="34.6" height="33.85" fill="none" stroke="#000" stroke-width="2.4" stroke-dasharray="2.4 2.45"/>
<line x1="599.6" y1="802.5" x2="634.2" y2="802.5" stroke="#000" stroke-width="2.2" stroke-dasharray="2.4 2.45"/>
<line x1="112.9" y1="517.5" x2="546.6" y2="517.5" stroke="#000" stroke-width="2.35"/><polygon points="105,517.5 113.9,512.9 113.9,522.1"/><polygon points="554.5,517.5 545.6,512.9 545.6,522.1"/>
<text x="328" y="522.7" text-anchor="middle" class="ast">*</text>
<line x1="152.15" y1="540" x2="582.35" y2="540" stroke="#000" stroke-width="2.35"/><polygon points="144.25,540 153.15,535.4 153.15,544.6"/><polygon points="590.25,540 581.35,535.4 581.35,544.6"/>
<text x="358" y="545.2" text-anchor="middle" class="ast">*</text>
<line x1="185.9" y1="560.5" x2="610.6" y2="560.5" stroke="#000" stroke-width="2.35"/><polygon points="178,560.5 186.9,555.9 186.9,565.1"/><polygon points="618.5,560.5 609.6,555.9 609.6,565.1"/>
<text x="390.75" y="564.7" text-anchor="middle" class="ast">*</text>
<line x1="112.9" y1="587.5" x2="396.6" y2="587.5" stroke="#000" stroke-width="2.35"/><polygon points="105,587.5 113.9,582.9 113.9,592.1"/><polygon points="404.5,587.5 395.6,582.9 395.6,592.1"/>
<text x="255" y="590.2" text-anchor="middle" class="ast">*</text>
<line x1="144.15" y1="614.5" x2="430.6" y2="614.5" stroke="#000" stroke-width="2.35"/><polygon points="136.25,614.5 145.15,609.9 145.15,619.1"/><polygon points="438.5,614.5 429.6,609.9 429.6,619.1"/>
<text x="277" y="617.2" text-anchor="middle" class="ast">*</text>
<line x1="332.15" y1="639.75" x2="463.6" y2="639.75" stroke="#000" stroke-width="2.35"/><polygon points="324.25,639.75 333.15,635.15 333.15,644.35"/><polygon points="471.5,639.75 462.6,635.15 462.6,644.35"/>
<text x="395.25" y="643.95" text-anchor="middle" class="ast">*</text>
<line x1="289.65" y1="665.25" x2="428.6" y2="665.25" stroke="#000" stroke-width="2.35"/><polygon points="281.75,665.25 290.65,660.65 290.65,669.85"/><polygon points="436.5,665.25 427.6,660.65 427.6,669.85"/>
<text x="360" y="669.7" text-anchor="middle" class="ast">*</text>
<line x1="481.9" y1="614.25" x2="610.6" y2="614.25" stroke="#000" stroke-width="2.35"/><polygon points="474,614.25 482.9,609.65 482.9,618.85"/><polygon points="618.5,614.25 609.6,609.65 609.6,618.85"/>
<text x="542.25" y="618.45" text-anchor="middle" class="ast">*</text>
<text x="72.2" y="521.5" class="tag">(c)</text>
<rect x="82" y="836.2" width="111.25" height="31.8" fill="#FF0000"/>
<text x="137.62" y="859.4" text-anchor="middle" class="lb" style="fill:#2b0000;stroke:#2b0000">ESI</text>
<rect x="229.5" y="836.2" width="112.25" height="31.8" fill="#FFC000"/>
<text x="285.62" y="859.4" text-anchor="middle" class="lb" style="fill:#0d0a00;stroke:#0d0a00">MSI</text>
<rect x="376" y="836.2" width="112.25" height="31.8" fill="#00B050"/>
<text x="432.12" y="859.4" text-anchor="middle" class="lb" style="fill:#00200a;stroke:#00200a">EMSI</text>
<rect x="523.5" y="836.2" width="112.25" height="31.8" fill="#0558C8"/>
<text x="579.62" y="859.4" text-anchor="middle" class="lb" style="fill:#00033c;stroke:#00033c">ESI-iEEG</text>
</g>
<g>
<rect x="744.4" y="497.9" width="585.6" height="335.1" fill="#DAE3F3" stroke="#222" stroke-width="2"/>
<text x="737.9" y="505.7" text-anchor="end" class="tk">70</text>
<text x="737.9" y="553.18" text-anchor="end" class="tk">60</text>
<text x="737.9" y="600.66" text-anchor="end" class="tk">50</text>
<text x="737.9" y="648.14" text-anchor="end" class="tk">40</text>
<text x="737.9" y="695.61" text-anchor="end" class="tk">30</text>
<text x="737.9" y="743.09" text-anchor="end" class="tk">20</text>
<text x="737.9" y="790.57" text-anchor="end" class="tk">10</text>
<text x="737.9" y="838.05" text-anchor="end" class="tk">0</text>
<text transform="translate(701.6 728.9) rotate(-90)" class="yt">D<tspan class="sub" dx="-1.5" dy="5.1">RES</tspan><tspan dx="0.8" dy="-5.1"> (mm)</tspan></text>
<path d="M779.6 665.25V634.75M779.6 734.25V755.75" stroke="#000" stroke-width="2.5" fill="none"/>
<path d="M771.1 634.75H788.1M771.1 755.75H788.1" stroke="#000" stroke-width="2.8" fill="none"/>
<path d="M817.3 656.25V650.5M817.3 740.25V785" stroke="#000" stroke-width="2.5" fill="none" stroke-dasharray="6.5 3"/>
<path d="M808.8 650.5H825.8M808.8 785H825.8" stroke="#000" stroke-width="2.8" fill="none"/>
<path d="M855 599.75V588.75M855 678V703.5" stroke="#000" stroke-width="2.5" fill="none" stroke-dasharray="2.2 2.9"/>
<path d="M846.5 588.75H863.5M846.5 703.5H863.5" stroke="#000" stroke-width="2.8" fill="none"/>
<path d="M925.6 593.5V567M925.6 768.5V782.5" stroke="#000" stroke-width="2.5" fill="none"/>
<path d="M917.1 567H934.1M917.1 782.5H934.1" stroke="#000" stroke-width="2.8" fill="none"/>
<path d="M963.6 640.25V598M963.6 784.25V795" stroke="#000" stroke-width="2.5" fill="none" stroke-dasharray="6.5 3"/>
<path d="M955.1 598H972.1M955.1 795H972.1" stroke="#000" stroke-width="2.8" fill="none"/>
<path d="M1001.6 641.5V611.75M1001.6 698.75V709.5" stroke="#000" stroke-width="2.5" fill="none" stroke-dasharray="2.2 2.9"/>
<path d="M993.1 611.75H1010.1M993.1 709.5H1010.1" stroke="#000" stroke-width="2.8" fill="none"/>
<path d="M1070.4 614V530M1070.4 781.5V809.5" stroke="#000" stroke-width="2.5" fill="none"/>
<path d="M1061.9 530H1078.9M1061.9 809.5H1078.9" stroke="#000" stroke-width="2.8" fill="none"/>
<path d="M1108.1 687.75V563.75M1108.1 778.5V822" stroke="#000" stroke-width="2.5" fill="none" stroke-dasharray="6.5 3"/>
<path d="M1099.6 563.75H1116.6M1099.6 822H1116.6" stroke="#000" stroke-width="2.8" fill="none"/>
<path d="M1145.8 670.5V653.25M1145.8 732.25V742.5" stroke="#000" stroke-width="2.5" fill="none" stroke-dasharray="2.2 2.9"/>
<path d="M1137.3 653.25H1154.3M1137.3 742.5H1154.3" stroke="#000" stroke-width="2.8" fill="none"/>
<path d="M1216.7 737.75V736.25M1216.7 793V813.25" stroke="#000" stroke-width="2.5" fill="none"/>
<path d="M1208.2 736.25H1225.2M1208.2 813.25H1225.2" stroke="#000" stroke-width="2.8" fill="none"/>
<path d="M1254.5 752.25V751.25M1254.5 799.75V803" stroke="#000" stroke-width="2.5" fill="none" stroke-dasharray="6.5 3"/>
<path d="M1246 751.25H1263M1246 803H1263" stroke="#000" stroke-width="2.8" fill="none"/>
<path d="M1292.3 697.75V664.75M1292.3 791.5V830.75" stroke="#000" stroke-width="2.5" fill="none" stroke-dasharray="2.2 2.9"/>
<path d="M1283.8 664.75H1300.8M1283.8 830.75H1300.8" stroke="#000" stroke-width="2.8" fill="none"/>
<rect x="761.2" y="665.25" width="37" height="69" fill="#ED1C24"/>
<rect x="764" y="668.05" width="31.4" height="63.4" fill="none" stroke="#fff" stroke-opacity="0.33" stroke-width="1.2"/>
<line x1="763.6" y1="682.75" x2="795.8" y2="682.75" stroke="#fff" stroke-opacity="0.3" stroke-width="4"/>
<rect x="762.4" y="666.45" width="34.6" height="66.6" fill="none" stroke="#000" stroke-width="2.4"/>
<line x1="762.4" y1="682.75" x2="797" y2="682.75" stroke="#000" stroke-width="2.2"/>
<rect x="798.9" y="656.25" width="37" height="84" fill="#ED1C24"/>
<rect x="801.7" y="659.05" width="31.4" height="78.4" fill="none" stroke="#fff" stroke-opacity="0.33" stroke-width="1.2"/>
<rect x="800.1" y="657.45" width="34.6" height="81.6" fill="none" stroke="#fff" stroke-opacity="0.8" stroke-width="2.4"/>
<line x1="800.1" y1="692.5" x2="834.7" y2="692.5" stroke="#fff" stroke-opacity="0.7" stroke-width="2"/>
<rect x="800.1" y="657.45" width="34.6" height="81.6" fill="none" stroke="#000" stroke-width="2.4" stroke-dasharray="6.5 2.8"/>
<line x1="800.1" y1="692.5" x2="834.7" y2="692.5" stroke="#000" stroke-width="2.2" stroke-dasharray="6.5 2.8"/>
<rect x="836.6" y="599.75" width="37" height="78.25" fill="#ED1C24"/>
<rect x="839.4" y="602.55" width="31.4" height="72.65" fill="none" stroke="#fff" stroke-opacity="0.33" stroke-width="1.2"/>
<rect x="837.8" y="600.95" width="34.6" height="75.85" fill="none" stroke="#fff" stroke-opacity="0.8" stroke-width="2.4"/>
<line x1="837.8" y1="653.5" x2="872.4" y2="653.5" stroke="#fff" stroke-opacity="0.7" stroke-width="2"/>
<rect x="837.8" y="600.95" width="34.6" height="75.85" fill="none" stroke="#000" stroke-width="2.4" stroke-dasharray="2.4 2.45"/>
<line x1="837.8" y1="653.5" x2="872.4" y2="653.5" stroke="#000" stroke-width="2.2" stroke-dasharray="2.4 2.45"/>
<rect x="907.2" y="593.5" width="37" height="175" fill="#FFC90E"/>
<rect x="910" y="596.3" width="31.4" height="169.4" fill="none" stroke="#fff" stroke-opacity="0.33" stroke-width="1.2"/>
<line x1="909.6" y1="716.25" x2="941.8" y2="716.25" stroke="#fff" stroke-opacity="0.3" stroke-width="4"/>
<rect x="908.4" y="594.7" width="34.6" height="172.6" fill="none" stroke="#000" stroke-width="2.4"/>
<line x1="908.4" y1="716.25" x2="943" y2="716.25" stroke="#000" stroke-width="2.2"/>
<rect x="945.2" y="640.25" width="37" height="144" fill="#FFC90E"/>
<rect x="948" y="643.05" width="31.4" height="138.4" fill="none" stroke="#fff" stroke-opacity="0.33" stroke-width="1.2"/>
<rect x="946.4" y="641.45" width="34.6" height="141.6" fill="none" stroke="#fff" stroke-opacity="0.8" stroke-width="2.4"/>
<line x1="946.4" y1="741.25" x2="981" y2="741.25" stroke="#fff" stroke-opacity="0.7" stroke-width="2"/>
<rect x="946.4" y="641.45" width="34.6" height="141.6" fill="none" stroke="#000" stroke-width="2.4" stroke-dasharray="6.5 2.8"/>
<line x1="946.4" y1="741.25" x2="981" y2="741.25" stroke="#000" stroke-width="2.2" stroke-dasharray="6.5 2.8"/>
<rect x="983.2" y="641.5" width="37" height="57.25" fill="#FFC90E"/>
<rect x="986" y="644.3" width="31.4" height="51.65" fill="none" stroke="#fff" stroke-opacity="0.33" stroke-width="1.2"/>
<rect x="984.4" y="642.7" width="34.6" height="54.85" fill="none" stroke="#fff" stroke-opacity="0.8" stroke-width="2.4"/>
<line x1="984.4" y1="676" x2="1019" y2="676" stroke="#fff" stroke-opacity="0.7" stroke-width="2"/>
<rect x="984.4" y="642.7" width="34.6" height="54.85" fill="none" stroke="#000" stroke-width="2.4" stroke-dasharray="2.4 2.45"/>
<line x1="984.4" y1="676" x2="1019" y2="676" stroke="#000" stroke-width="2.2" stroke-dasharray="2.4 2.45"/>
<rect x="1052" y="614" width="37" height="167.5" fill="#22B14C"/>
<rect x="1054.8" y="616.8" width="31.4" height="161.9" fill="none" stroke="#fff" stroke-opacity="0.33" stroke-width="1.2"/>
<line x1="1054.4" y1="703.5" x2="1086.6" y2="703.5" stroke="#fff" stroke-opacity="0.3" stroke-width="4"/>
<rect x="1053.2" y="615.2" width="34.6" height="165.1" fill="none" stroke="#000" stroke-width="2.4"/>
<line x1="1053.2" y1="703.5" x2="1087.8" y2="703.5" stroke="#000" stroke-width="2.2"/>
<rect x="1089.7" y="687.75" width="37" height="90.75" fill="#22B14C"/>
<rect x="1092.5" y="690.55" width="31.4" height="85.15" fill="none" stroke="#fff" stroke-opacity="0.33" stroke-width="1.2"/>
<rect x="1090.9" y="688.95" width="34.6" height="88.35" fill="none" stroke="#fff" stroke-opacity="0.8" stroke-width="2.4"/>
<line x1="1090.9" y1="718" x2="1125.5" y2="718" stroke="#fff" stroke-opacity="0.7" stroke-width="2"/>
<rect x="1090.9" y="688.95" width="34.6" height="88.35" fill="none" stroke="#000" stroke-width="2.4" stroke-dasharray="6.5 2.8"/>
<line x1="1090.9" y1="718" x2="1125.5" y2="718" stroke="#000" stroke-width="2.2" stroke-dasharray="6.5 2.8"/>
<rect x="1127.4" y="670.5" width="37" height="61.75" fill="#22B14C"/>
<rect x="1130.2" y="673.3" width="31.4" height="56.15" fill="none" stroke="#fff" stroke-opacity="0.33" stroke-width="1.2"/>
<rect x="1128.6" y="671.7" width="34.6" height="59.35" fill="none" stroke="#fff" stroke-opacity="0.8" stroke-width="2.4"/>
<line x1="1128.6" y1="700.25" x2="1163.2" y2="700.25" stroke="#fff" stroke-opacity="0.7" stroke-width="2"/>
<rect x="1128.6" y="671.7" width="34.6" height="59.35" fill="none" stroke="#000" stroke-width="2.4" stroke-dasharray="2.4 2.45"/>
<line x1="1128.6" y1="700.25" x2="1163.2" y2="700.25" stroke="#000" stroke-width="2.2" stroke-dasharray="2.4 2.45"/>
<rect x="1198.3" y="737.75" width="37" height="55.25" fill="#3F48CC"/>
<rect x="1201.1" y="740.55" width="31.4" height="49.65" fill="none" stroke="#fff" stroke-opacity="0.33" stroke-width="1.2"/>
<line x1="1200.7" y1="765" x2="1232.9" y2="765" stroke="#fff" stroke-opacity="0.3" stroke-width="4"/>
<rect x="1199.5" y="738.95" width="34.6" height="52.85" fill="none" stroke="#000" stroke-width="2.4"/>
<line x1="1199.5" y1="765" x2="1234.1" y2="765" stroke="#000" stroke-width="2.2"/>
<rect x="1236.1" y="752.25" width="37" height="47.5" fill="#3F48CC"/>
<rect x="1238.9" y="755.05" width="31.4" height="41.9" fill="none" stroke="#fff" stroke-opacity="0.33" stroke-width="1.2"/>
<rect x="1237.3" y="753.45" width="34.6" height="45.1" fill="none" stroke="#fff" stroke-opacity="0.8" stroke-width="2.4"/>
<line x1="1237.3" y1="788" x2="1271.9" y2="788" stroke="#fff" stroke-opacity="0.7" stroke-width="2"/>
<rect x="1237.3" y="753.45" width="34.6" height="45.1" fill="none" stroke="#000" stroke-width="2.4" stroke-dasharray="6.5 2.8"/>
<line x1="1237.3" y1="788" x2="1271.9" y2="788" stroke="#000" stroke-width="2.2" stroke-dasharray="6.5 2.8"/>
<rect x="1273.9" y="697.75" width="37" height="93.75" fill="#3F48CC"/>
<rect x="1276.7" y="700.55" width="31.4" height="88.15" fill="none" stroke="#fff" stroke-opacity="0.33" stroke-width="1.2"/>
<rect x="1275.1" y="698.95" width="34.6" height="91.35" fill="none" stroke="#fff" stroke-opacity="0.8" stroke-width="2.4"/>
<line x1="1275.1" y1="756.25" x2="1309.7" y2="756.25" stroke="#fff" stroke-opacity="0.7" stroke-width="2"/>
<rect x="1275.1" y="698.95" width="34.6" height="91.35" fill="none" stroke="#000" stroke-width="2.4" stroke-dasharray="2.4 2.45"/>
<line x1="1275.1" y1="756.25" x2="1309.7" y2="756.25" stroke="#000" stroke-width="2.2" stroke-dasharray="2.4 2.45"/>
<line x1="862.65" y1="518" x2="1151.6" y2="518" stroke="#000" stroke-width="2.35"/><polygon points="854.75,518 863.65,513.4 863.65,522.6"/><polygon points="1159.5,518 1150.6,513.4 1150.6,522.6"/>
<text x="995.5" y="523.95" text-anchor="middle" class="ast">*</text>
<line x1="1113.9" y1="553.25" x2="1252.85" y2="553.25" stroke="#000" stroke-width="2.35"/><polygon points="1106,553.25 1114.9,548.65 1114.9,557.85"/><polygon points="1260.75,553.25 1251.85,548.65 1251.85,557.85"/>
<text x="1179" y="556.45" text-anchor="middle" class="ast">*</text>
<line x1="1152.4" y1="625.75" x2="1286.6" y2="625.75" stroke="#000" stroke-width="2.35"/><polygon points="1144.5,625.75 1153.4,621.15 1153.4,630.35"/><polygon points="1294.5,625.75 1285.6,621.15 1285.6,630.35"/>
<text x="1220.75" y="629.7" text-anchor="middle" class="ast">*</text>
<text x="750" y="521.5" class="tag">(d)</text>
<rect x="759.75" y="836.3" width="112" height="31.7" fill="#FF0000"/>
<text x="815.75" y="859.45" text-anchor="middle" class="lb" style="fill:#2b0000;stroke:#2b0000">ESI</text>
<rect x="908" y="836.3" width="111.25" height="31.7" fill="#FFC000"/>
<text x="963.62" y="859.45" text-anchor="middle" class="lb" style="fill:#0d0a00;stroke:#0d0a00">MSI</text>
<rect x="1054.25" y="836.3" width="111.5" height="31.7" fill="#00B050"/>
<text x="1110" y="859.45" text-anchor="middle" class="lb" style="fill:#00200a;stroke:#00200a">EMSI</text>
<rect x="1202" y="836.3" width="112" height="31.7" fill="#0558C8"/>
<text x="1258" y="859.45" text-anchor="middle" class="lb" style="fill:#00033c;stroke:#00033c">ESI-iEEG</text>
</g>
<text x="511" y="43.3" class="t1">Distance from SOZ (D<tspan class="t1s" dy="6">soz</tspan><tspan dy="-6">)</tspan></text>
<text x="463.8" y="481.5" class="t1">Distance from Resection (D<tspan class="t1s" dy="6.5">RES</tspan><tspan dy="-6.5">)</tspan></text>
<text x="273.5" y="60" class="t2">Good-outcome</text>
<text x="940.5" y="61.2" class="t2">Poor-outcome</text>
<rect x="1335.6" y="753.7" width="22.6" height="14" fill="#fff" stroke="#000" stroke-width="3.2"/>
<rect x="1336.1" y="778.6" width="22.9" height="14.4" fill="#fff" stroke="#000" stroke-width="3.2" stroke-dasharray="11.7 4"/>
<rect x="1336.1" y="804" width="22.9" height="14.3" fill="#fff" stroke="#000" stroke-width="3.2" stroke-dasharray="3.4 4.05"/>
<text x="1371.6" y="769.6" class="lg">ECDs</text>
<text x="1371.6" y="796.3" class="lg" style="letter-spacing:0.19px">Clustering</text>
<text x="1373" y="822.5" class="lg" style="letter-spacing:0.5px">dSPM</text>
</svg>
<div id="cap">
<div><b>Fig. 2: Estimation of localization accuracy for electric source imaging (ESI), magnetic source imaging (MSI),</b></div>
<div><b>electromagnetic source imaging (EMSI), and ESI on intracranial EEG (ESI-iEEG).</b> Distance of ECDs, clustered dipoles and</div>
<div>dSPM (in mm) from the clinically defined seizure onset zone (SOZ) (DSOZ) for patients with good <b>(a)</b> and poor outcome <b>(b)</b>.</div>
<div>Distance of ECDs, clustered dipoles and dSPM (in mm) from resection DRES for patients with good <b>(c)</b> and poor outcome <b>(d)</b>.</div>
<div class="last">Asterisks show significances (p &lt; 0.05).</div>
</div>
</body></html>
